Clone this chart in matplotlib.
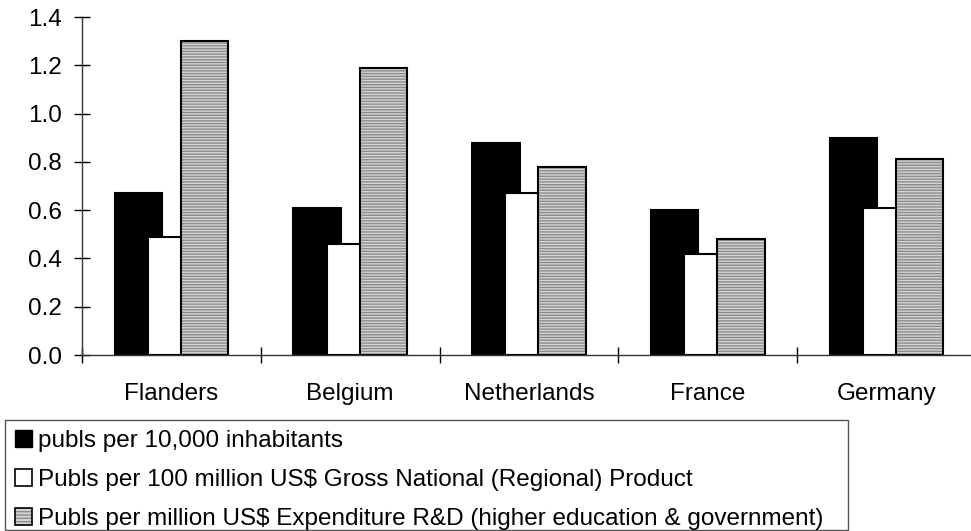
import numpy as np
import matplotlib.pyplot as plt
from matplotlib.patches import Patch, Rectangle
from matplotlib.legend_handler import HandlerTuple

plt.rcParams['font.family'] = ['Liberation Sans', 'DejaVu Sans']

countries = ['Flanders', 'Belgium', 'Netherlands', 'France', 'Germany']
per_inhabitants = [0.67, 0.61, 0.88, 0.60, 0.90]
per_gnp = [0.49, 0.46, 0.67, 0.42, 0.61]
per_rd = [1.30, 1.19, 0.78, 0.48, 0.81]

series_labels = [
    'publs per 10,000 inhabitants',
    'Publs per 100 million US$ Gross National (Regional) Product',
    'Publs per million US$ Expenditure R&D (higher education & government)',
]

HATCH_FACE = '#d4d4d4'
HATCH_LINE = '#8c8c8c'
FONT_SIZE = 17.5
W, H = 971, 531

fig = plt.figure(figsize=(W / 100, H / 100), dpi=100)
ax = fig.add_axes([82 / W, 1 - 355 / H, 894 / W, (355 - 17) / H])

x = np.arange(len(countries))
width = 0.265
step = 0.185

ax.bar(x - step, per_inhabitants, width, color='black', edgecolor='black', linewidth=1.5)
ax.bar(x, per_gnp, width, color='white', edgecolor='black', linewidth=1.5)
# hatched fill first, then a plain black outline on top
ax.bar(x + step, per_rd, width, color=HATCH_FACE, edgecolor=HATCH_LINE,
       hatch='------', linewidth=0)
ax.bar(x + step, per_rd, width, fill=False, edgecolor='black', linewidth=1.5)

ax.set_xlim(-0.5, len(countries) - 0.5)
ax.set_ylim(0, 1.4)
ax.set_yticks(np.arange(0, 1.41, 0.2))
ax.set_yticklabels([f'{v:.1f}' for v in np.arange(0, 1.41, 0.2)])

ax.set_xticks(np.arange(len(countries) + 1) - 0.5)
ax.set_xticklabels([])
ax.set_xticks(x, minor=True)
ax.set_xticklabels(countries, minor=True)

ax.tick_params(axis='y', direction='inout', length=11, width=1, labelsize=FONT_SIZE, pad=9)
ax.tick_params(axis='x', which='major', direction='inout', length=11, width=1)
ax.tick_params(axis='x', which='minor', length=0, labelsize=FONT_SIZE, pad=20)

for side in ['top', 'right']:
    ax.spines[side].set_visible(False)
for side in ['left', 'bottom']:
    ax.spines[side].set_linewidth(1)
    ax.spines[side].set_color('#333333')

h_black = Patch(facecolor='black', edgecolor='black', linewidth=1)
h_white = Patch(facecolor='white', edgecolor='black', linewidth=1.2)
h_fill = Patch(facecolor=HATCH_FACE, edgecolor=HATCH_LINE, hatch='-----', linewidth=0)
h_edge = Patch(fill=False, edgecolor='black', linewidth=1.2)

fig.legend([h_black, h_white, (h_fill, h_edge)], series_labels,
           handler_map={tuple: HandlerTuple(ndivide=1, pad=0)},
           loc='upper left', bbox_to_anchor=(5 / W, 1 - 420 / H),
           borderaxespad=0, fontsize=FONT_SIZE, frameon=False,
           handlelength=0.7, handleheight=0.7, handletextpad=0.25,
           labelspacing=0.71, borderpad=0.4)

# legend box is drawn by hand so the bottom padding can stay tight
fig.patches.append(Rectangle((5 / W, 1 - 530 / H), 843 / W, 110 / H,
                             transform=fig.transFigure, fill=False,
                             edgecolor='#555555', linewidth=1))

fig.savefig('out.png', dpi=100)
